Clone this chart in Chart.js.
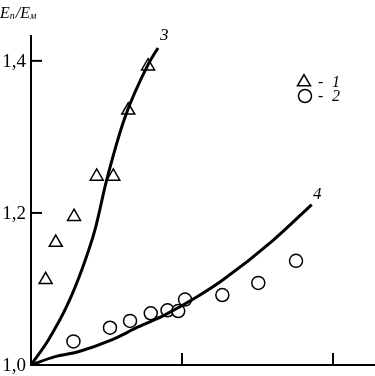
<!DOCTYPE html>
<html>
<head>
<meta charset="utf-8">
<script src="https://cdn.jsdelivr.net/npm/chart.js@4/dist/chart.umd.min.js"></script>
<style>
  html, body { margin: 0; padding: 0; background: #fff; }
  #wrap { width: 375px; height: 376px; position: relative; }
</style>
</head>
<body>
<div id="wrap"><canvas id="chart"></canvas></div>
<script>
// series 1 (triangles) and series 2 (circles), x in tick units
const triX = [0.097, 0.164, 0.285, 0.435, 0.545, 0.644, 0.775];
const triY = [1.112, 1.161, 1.195, 1.248, 1.248, 1.335, 1.393];

const circX = [0.281, 0.523, 0.656, 0.793, 0.904, 0.975, 1.020, 1.267, 1.505, 1.755];
const circY = [1.031, 1.049, 1.058, 1.068, 1.072, 1.071, 1.086, 1.092, 1.108, 1.137];

// curve 3 and curve 4
const curve3X = [0, 0.115, 0.236, 0.336, 0.424, 0.501, 0.623, 0.775, 0.841];
const curve3Y = [1.0, 1.033, 1.077, 1.125, 1.178, 1.243, 1.326, 1.395, 1.417];

const curve4X = [0, 0.159, 0.313, 0.534, 0.709, 0.887, 1.119, 1.272, 1.603, 1.859];
const curve4Y = [1.0, 1.011, 1.0175, 1.033, 1.050, 1.066, 1.092, 1.112, 1.164, 1.211];

const yTicks = [1.0, 1.2, 1.4];
const yTickLabels = ['1,0', '1,2', '1,4'];
const xTicks = [1, 2];

const pts = (xs, ys) => xs.map((x, i) => ({ x: x, y: ys[i] }));

const serif = '"Liberation Serif", "DejaVu Serif", serif';

const axesPlugin = {
  id: 'axesPlugin',
  afterDraw(chart) {
    const ctx = chart.ctx;
    const xs = chart.scales.x, ys = chart.scales.y;
    const a = chart.chartArea;
    ctx.save();
    ctx.strokeStyle = '#000';
    ctx.fillStyle = '#000';
    ctx.lineWidth = 2;

    // axis lines
    ctx.beginPath();
    ctx.moveTo(a.left, a.top);
    ctx.lineTo(a.left, a.bottom);
    ctx.lineTo(a.right, a.bottom);
    ctx.stroke();

    // y ticks (inward) + labels
    ctx.font = '19px ' + serif;
    ctx.textAlign = 'right';
    ctx.textBaseline = 'middle';
    yTicks.forEach((v, i) => {
      const py = ys.getPixelForValue(v);
      if (i > 0) {
        ctx.beginPath();
        ctx.moveTo(a.left, py);
        ctx.lineTo(a.left + 11, py);
        ctx.stroke();
      }
      ctx.fillText(yTickLabels[i], 26, py + 1);
    });

    // x ticks (inward)
    xTicks.forEach(v => {
      const px = xs.getPixelForValue(v);
      ctx.beginPath();
      ctx.moveTo(px, a.bottom);
      ctx.lineTo(px, a.bottom - 12);
      ctx.stroke();
    });

    // axis title E_п/E_м
    ctx.textAlign = 'left';
    ctx.textBaseline = 'alphabetic';
    let tx = 0;
    const part = (txt, size, dy) => {
      ctx.font = 'italic ' + size + 'px ' + serif;
      ctx.fillText(txt, tx, 18 + dy);
      tx += ctx.measureText(txt).width;
    };
    part('E', 16, 0);
    part('п', 10, 1);
    tx += 1;
    part('/E', 16, 0);
    part('м', 10, 1);

    // curve labels
    ctx.font = 'italic 17px ' + serif;
    ctx.fillText('3', 160, 40);
    ctx.fillText('4', 313, 199);

    // legend
    ctx.lineWidth = 1.5;
    ctx.fillStyle = '#fff';
    Chart.helpers.drawPoint(ctx, { pointStyle: 'triangle', radius: 7.5, borderWidth: 1.5 }, 304, 82);
    Chart.helpers.drawPoint(ctx, { pointStyle: 'circle', radius: 6.5, borderWidth: 1.5 }, 305, 96);
    ctx.fillStyle = '#000';
    ctx.font = '16px ' + serif;
    ctx.fillText('-', 318, 87);
    ctx.fillText('-', 318, 101);
    ctx.font = 'italic 16px ' + serif;
    ctx.fillText('1', 332, 87);
    ctx.fillText('2', 332, 101);
    ctx.restore();
  }
};

new Chart(document.getElementById('chart'), {
  type: 'scatter',
  data: {
    datasets: [
      {
        label: '3',
        data: pts(curve3X, curve3Y),
        showLine: true,
        borderColor: '#000',
        borderWidth: 3,
        pointRadius: 0,
        tension: 0.4,
        cubicInterpolationMode: 'monotone'
      },
      {
        label: '4',
        data: pts(curve4X, curve4Y),
        showLine: true,
        borderColor: '#000',
        borderWidth: 3,
        pointRadius: 0,
        tension: 0.4,
        cubicInterpolationMode: 'monotone'
      },
      {
        label: '1',
        data: pts(triX, triY),
        pointStyle: 'triangle',
        pointRadius: 7.5,
        pointBorderWidth: 1.5,
        borderColor: '#000',
        backgroundColor: '#fff'
      },
      {
        label: '2',
        data: pts(circX, circY),
        pointStyle: 'circle',
        pointRadius: 6.5,
        pointBorderWidth: 1.5,
        borderColor: '#000',
        backgroundColor: '#fff'
      }
    ]
  },
  options: {
    responsive: true,
    maintainAspectRatio: false,
    animation: false,
    layout: { autoPadding: false, padding: { left: 31, right: 0, top: 35, bottom: 11 } },
    plugins: {
      legend: { display: false },
      tooltip: { enabled: false }
    },
    scales: {
      x: { type: 'linear', display: false, min: 0, max: 2.278 },
      y: { type: 'linear', display: false, min: 1.0, max: 1.434 }
    }
  },
  plugins: [axesPlugin]
});
</script>
</body>
</html>
